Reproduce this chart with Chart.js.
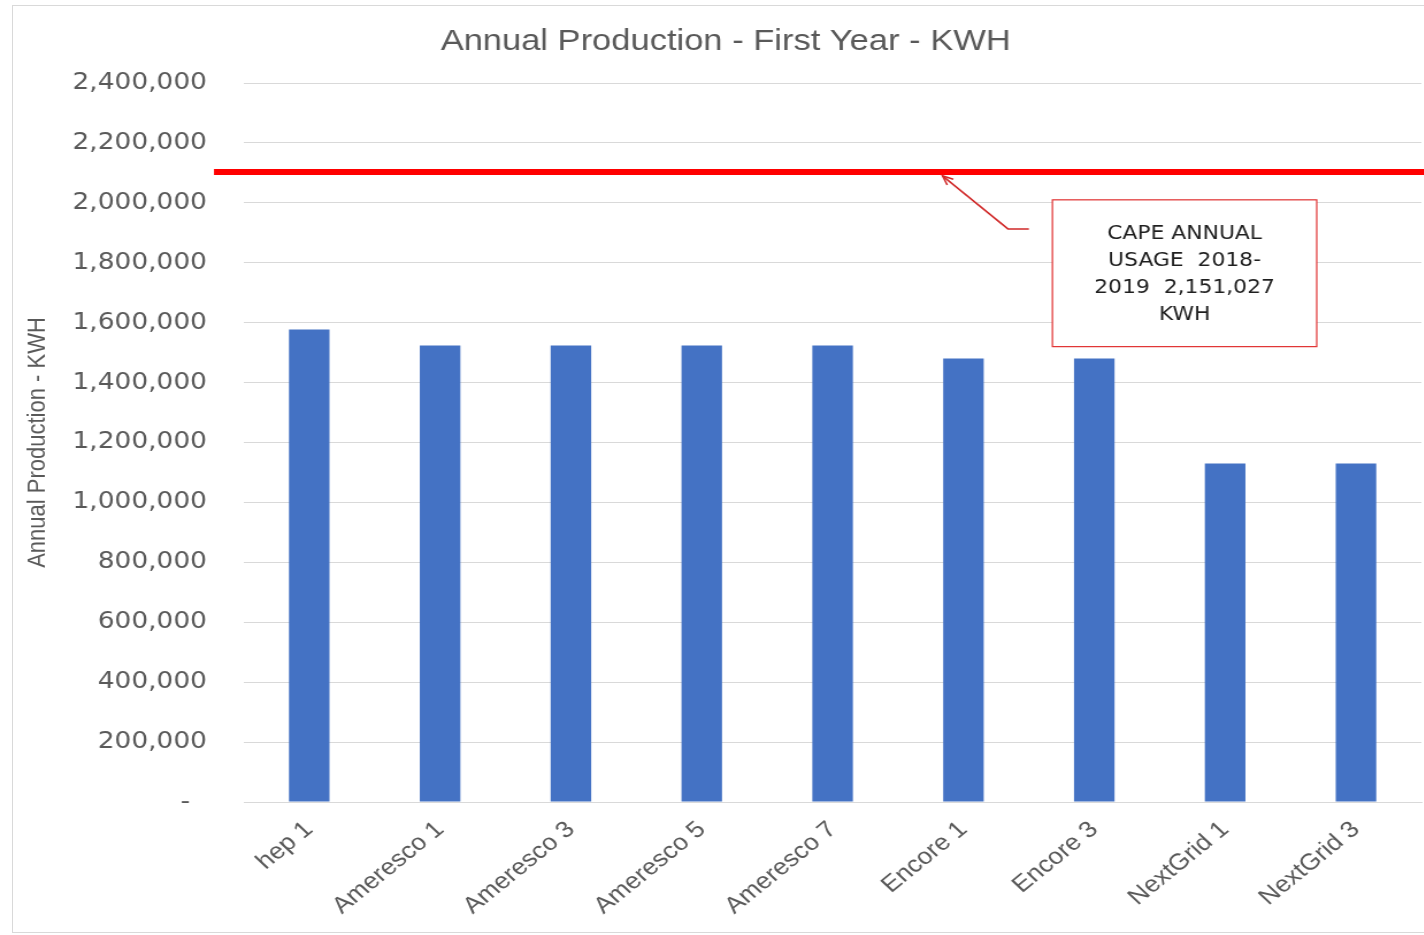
<!DOCTYPE html>
<html>
<head>
<meta charset="utf-8">
<script src="https://cdn.jsdelivr.net/npm/chart.js@4.4.1/dist/chart.umd.min.js"></script>
<style>
  html, body { margin: 0; padding: 0; background: #fff; overflow: hidden; }
  #frame { position: absolute; left: 12px; top: 5px; width: 1430px; height: 926px; border: 1px solid #d9d9d9; }
  #wrap { position: absolute; left: 0; top: 0; width: 1238px; height: 935px; transform: scaleX(1.15); transform-origin: 0 0; }
</style>
</head>
<body>
<div id="frame"></div>
<div id="wrap"><canvas id="chart" width="1238" height="935"></canvas></div>
<script>
// Dữ liệu biểu đồ
const categories = ['hep 1', 'Ameresco 1', 'Ameresco 3', 'Ameresco 5', 'Ameresco 7', 'Encore 1', 'Encore 3', 'NextGrid 1', 'NextGrid 3'];
const production = [1577000, 1524000, 1524000, 1524000, 1524000, 1480000, 1480000, 1130000, 1130000];
const yTicks = [0, 200000, 400000, 600000, 800000, 1000000, 1200000, 1400000, 1600000, 1800000, 2000000, 2200000, 2400000];
const usageLine = 2103000;
const usageText = ['CAPE ANNUAL', 'USAGE  2018-', '2019  2,151,027', 'KWH'];

const SCALE_X = 1.15;

// Đường đỏ + hộp chú thích
const usagePlugin = {
    id: 'usage',
    afterDraw(chart) {
        const ctx = chart.ctx;
        const x = chart.scales.x;
        const y = chart.scales.y;

        // đường mức sử dụng
        const ly = y.getPixelForValue(usageLine);
        ctx.save();
        ctx.strokeStyle = '#ff0000';
        ctx.lineWidth = 6;
        ctx.beginPath();
        ctx.moveTo(214 / SCALE_X, ly);
        ctx.lineTo(chart.width, ly);
        ctx.stroke();

        // hộp
        const bx1 = x.getPixelForValue(5.68);
        const bx2 = x.getPixelForValue(7.70);
        const by1 = y.getPixelForValue(2010000);
        const by2 = y.getPixelForValue(1520000);
        ctx.fillStyle = '#fff';
        ctx.fillRect(bx1, by1, bx2 - bx1, by2 - by1);
        ctx.strokeStyle = '#e03030';
        ctx.lineWidth = 1.2;
        ctx.strokeRect(bx1, by1, bx2 - bx1, by2 - by1);

        ctx.fillStyle = '#1f1f1f';
        ctx.font = '19px "DejaVu Sans"';
        ctx.textAlign = 'center';
        ctx.textBaseline = 'middle';
        const cx = (bx1 + bx2) / 2;
        usageText.forEach(function (t, i) {
            ctx.fillText(t, cx, by1 + 34 + i * 27);
        });

        // mũi tên
        const ay = y.getPixelForValue(1913000);
        const ex = x.getPixelForValue(5.34);
        const tx = x.getPixelForValue(4.84);
        const ty = y.getPixelForValue(2090000);
        ctx.strokeStyle = '#d02828';
        ctx.lineWidth = 1.5;
        ctx.beginPath();
        ctx.moveTo(x.getPixelForValue(5.5), ay);
        ctx.lineTo(ex, ay);
        ctx.lineTo(tx, ty);
        ctx.stroke();
        const ang = Math.atan2(ty - ay, tx - ex);
        ctx.beginPath();
        ctx.moveTo(tx - 10 * Math.cos(ang - 0.4), ty - 10 * Math.sin(ang - 0.4));
        ctx.lineTo(tx, ty);
        ctx.lineTo(tx - 10 * Math.cos(ang + 0.4), ty - 10 * Math.sin(ang + 0.4));
        ctx.stroke();
        ctx.restore();
    }
};

const ctx = document.getElementById('chart').getContext('2d');
const chart = new Chart(ctx, {
    type: 'bar',
    data: {
        labels: categories,
        datasets: [{
            label: 'Annual Production',
            data: production,
            backgroundColor: '#4472c4',
            borderWidth: 0,
            barPercentage: 0.31,
            categoryPercentage: 1
        }]
    },
    options: {
        responsive: false,
        animation: false,
        devicePixelRatio: 1,
        layout: { padding: { left: 26, right: 2, top: 0, bottom: 0 } },
        plugins: {
            legend: { display: false },
            tooltip: { enabled: false },
            title: {
                display: true,
                text: 'Annual Production - First Year - KWH',
                color: '#595959',
                font: { family: '"Liberation Sans", Arial', size: 30, weight: 'normal' },
                padding: { top: 24, bottom: 23 }
            }
        },
        scales: {
            x: {
                grid: { display: false },
                border: { display: true, color: '#d9d9d9' },
                ticks: {
                    color: '#595959',
                    font: { family: '"Liberation Sans", Arial', size: 23 },
                    minRotation: 43,
                    maxRotation: 43,
                    autoSkip: false,
                    padding: 6
                },
                afterFit(scale) { scale.height = 133; }
            },
            y: {
                min: 0,
                max: 2400000,
                afterBuildTicks(scale) { scale.ticks = yTicks.map(v => ({ value: v })); },
                grid: { color: '#d9d9d9', drawTicks: false },
                border: { display: false },
                ticks: {
                    color: '#595959',
                    font: { family: '"DejaVu Sans"', size: 23 },
                    padding: 32,
                    callback: v => v === 0 ? '-  ' : v.toLocaleString('en-US')
                },
                title: {
                    display: true,
                    text: 'Annual Production - KWH',
                    color: '#595959',
                    font: { family: '"Liberation Sans", Arial', size: 22 },
                    padding: { top: -6, bottom: 0 }
                },
                afterFit(scale) { scale.width = 186; }
            }
        }
    },
    plugins: [usagePlugin]
});
</script>
</body>
</html>
